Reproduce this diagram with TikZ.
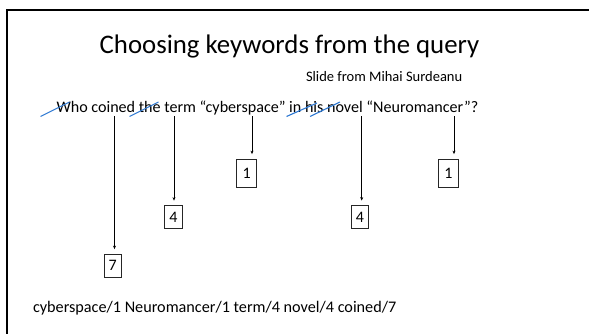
\documentclass[tikz,border=0pt]{standalone}
\usepackage{fontspec}
\setmainfont{Carlito}
\usetikzlibrary{arrows.meta}
\definecolor{strikeblue}{RGB}{45,120,210}
\begin{document}
\begin{tikzpicture}[x=1pt,y=-1pt,
  txt/.style={inner sep=0pt,outer sep=0pt,text=black},
  numbox/.style={draw=black!85,line width=0.8pt,inner sep=0pt,
    font=\fontsize{16}{16}\selectfont},
  onebox/.style={numbox,minimum width=19.5pt,minimum height=28pt},
  smallbox/.style={numbox,minimum width=17.5pt,minimum height=23pt},
  arr/.style={line width=0.8pt,-{Stealth[length=3.5pt,width=3pt]},shorten >=4.5pt},
  strike/.style={draw=strikeblue,line width=1.1pt}]
\useasboundingbox (0,0) rectangle (589,334);
% frame
\draw[line width=2pt,miter limit=10] (7,334) -- (7,10) -- (589,10);
% texts
\node[txt,anchor=base,font=\fontsize{26.8}{30}\selectfont] (title) at (289.5,54) {Choosing keywords from the query};
\node[txt,anchor=base west,font=\fontsize{14.5}{17}\selectfont] (credit) at (306,82) {Slide from Mihai Surdeanu};
\node[txt,anchor=base west,font=\fontsize{16.1}{19}\selectfont] (query) at (56.5,113) {Who coined the term “cyberspace” in his novel “Neuromancer”?};
\node[txt,anchor=base west,font=\fontsize{16.2}{19}\selectfont] (summary) at (33,312) {cyberspace/1 Neuromancer/1 term/4 novel/4 coined/7};
% strikes
\draw[strike] (40.5,116.5) -- (69.5,102);
\draw[strike] (129.5,116.5) -- (158.5,102);
\draw[strike] (286.5,116.5) -- (317,103);
\draw[strike] (310,116.5) -- (340,102);
% boxes
\node[smallbox] (b7) at (112.75,265.5) {7};
\node[smallbox] (b4a) at (173.4,217) {4};
\node[onebox] (b1a) at (246.6,173) {1};
\node[smallbox] (b4b) at (360,217) {4};
\node[onebox] (b1b) at (448.3,173) {1};
% arrow starts
\coordinate (scoined) at (114.5,116.5);
\coordinate (sterm) at (174,116.5);
\coordinate (scyber) at (252,116.5);
\coordinate (snovel) at (361.7,116.5);
\coordinate (sneuro) at (454,116.5);
\draw[arr] (scoined) -- (scoined |- b7.north);
\draw[arr] (sterm) -- (sterm |- b4a.north);
\draw[arr] (scyber) -- (scyber |- b1a.north);
\draw[arr] (snovel) -- (snovel |- b4b.north);
\draw[arr] (sneuro) -- (sneuro |- b1b.north);
\end{tikzpicture}
\end{document}
